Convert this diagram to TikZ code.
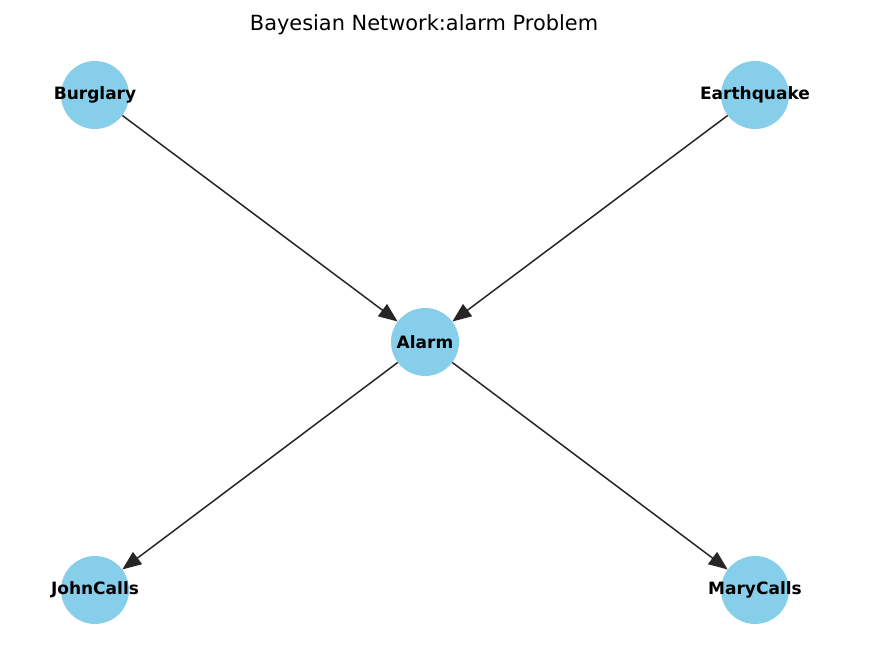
\documentclass[tikz,border=0pt]{standalone}
\usepackage{fontspec}
\setmainfont{DejaVu Sans}
\usetikzlibrary{arrows.meta}
\definecolor{skyblue}{HTML}{87CEEB}

\begin{document}
\begin{tikzpicture}[x=1pt,y=1pt]
\tikzset{var/.style={shape=circle,fill=skyblue,minimum size=68pt,inner sep=0pt,font=\fontsize{17}{20}\selectfont\bfseries}}
\tikzset{dep/.style={draw=black!85,line width=1.5pt,-{Triangle[length=19pt,width=15pt]}}}
\newcommand{\varlabel}[1]{\makebox[0pt]{#1}}
\useasboundingbox (0,0) rectangle (892,662);
%
\node at (424,637) [font=\fontsize{20.9}{24}\selectfont] (title) {Bayesian Network:alarm Problem};
%
\node at (95,567) [var] (burglary) {\varlabel{Burglary}};
\node at (755,567) [var] (earthquake) {\varlabel{Earthquake}};
\node at (425,320) [var] (alarm) {\varlabel{Alarm}};
\node at (95,72) [var] (johncalls) {\varlabel{JohnCalls}};
\node at (755,72) [var] (marycalls) {\varlabel{MaryCalls}};
%
\draw[dep] (burglary) -- (alarm);
\draw[dep] (earthquake) -- (alarm);
\draw[dep] (alarm) -- (johncalls);
\draw[dep] (alarm) -- (marycalls);
\end{tikzpicture}
\end{document}
